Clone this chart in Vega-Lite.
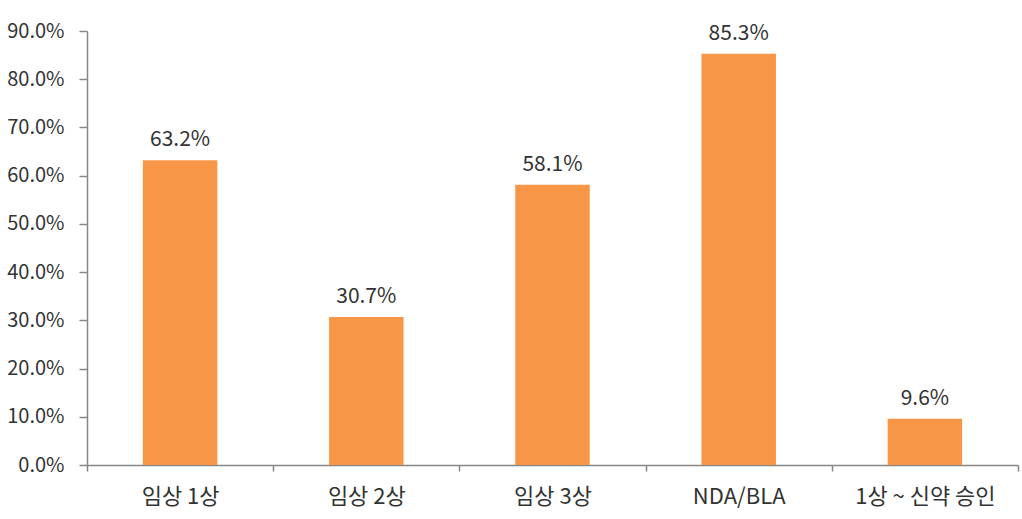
{
  "$schema": "https://vega.github.io/schema/vega-lite/v6.json",
  "width": 931,
  "height": 434,
  "autosize": {"type": "none"},
  "padding": {"left": 87, "top": 31, "right": 4, "bottom": 54},
  "background": "white",
  "config": {
    "view": {"stroke": null},
    "font": "Noto Sans CJK KR",
    "text": {"font": "Noto Sans CJK KR"}
  },
  "data": {
    "values": [
      {"stage": "임상 1상", "rate": 0.632},
      {"stage": "임상 2상", "rate": 0.307},
      {"stage": "임상 3상", "rate": 0.581},
      {"stage": "NDA/BLA", "rate": 0.853},
      {"stage": "1상 ~ 신약 승인", "rate": 0.096}
    ]
  },
  "encoding": {
    "x": {
      "field": "stage",
      "type": "nominal",
      "sort": null,
      "scale": {"paddingInner": 0, "paddingOuter": 0},
      "axis": {
        "title": null,
        "labelAngle": 0,
        "labelFont": "Noto Sans CJK KR",
        "labelFontSize": 22,
        "labelColor": "#333333",
        "labelPadding": 15,
        "tickBand": "extent",
        "tickSize": 6,
        "tickColor": "#868686",
        "tickWidth": 1.5,
        "domainColor": "#868686",
        "domainWidth": 1.5
      }
    },
    "y": {
      "field": "rate",
      "type": "quantitative",
      "scale": {"domain": [0, 0.9], "nice": false},
      "axis": {
        "title": null,
        "format": ".1%",
        "values": [0, 0.1, 0.2, 0.3, 0.4, 0.5, 0.6, 0.7, 0.8, 0.9],
        "grid": false,
        "labelFont": "Noto Sans CJK KR",
        "labelFontSize": 20,
        "labelColor": "#333333",
        "labelPadding": 15,
        "tickSize": 8,
        "tickColor": "#868686",
        "tickWidth": 1.5,
        "domainColor": "#868686",
        "domainWidth": 1.5
      }
    }
  },
  "layer": [
    {
      "mark": {"type": "bar", "color": "#F79646", "width": {"band": 0.4}}
    },
    {
      "mark": {"type": "text", "baseline": "bottom", "dy": -10, "fontSize": 21, "color": "#333333"},
      "encoding": {
        "text": {"field": "rate", "type": "quantitative", "format": ".1%"}
      }
    }
  ]
}
